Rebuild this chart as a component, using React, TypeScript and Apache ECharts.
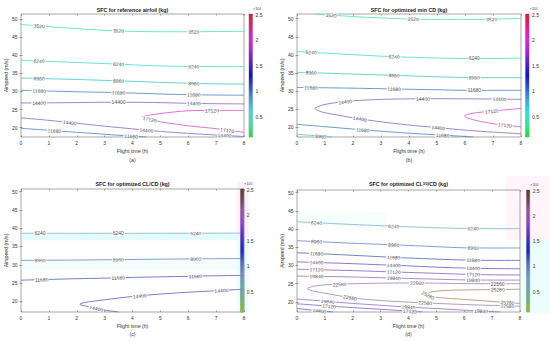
import { useEffect, useRef } from 'react';
import * as echarts from 'echarts';

type Pt = [number, number];
type Contour = { level: number; pts: Pt[] };
type LabelSpec = [number, number, number]; // [contour index, flight time where label sits, crossing number]

const flightTimeRange: Pt = [0, 8];
const airspeedTicks = [20, 25, 30, 35, 40, 45, 50];
const colorbarTicks = [0.5, 1, 1.5, 2, 2.5];
const colorbarRange: Pt = [0.1, 2.51];

// ---- (a) reference airfoil ----
const contoursA: Contour[] = [
  { level: 3520, pts: [[0, 48.5], [1, 47.9], [2, 47.35], [3, 46.9], [4, 46.6], [5, 46.5], [6, 46.5], [7, 46.55], [8, 46.6]] },
  { level: 6240, pts: [[0, 38.6], [1, 38.3], [2, 38.0], [3, 37.7], [4, 37.35], [5, 37.05], [6, 36.9], [7, 36.85], [8, 36.85]] },
  { level: 8960, pts: [[0, 33.7], [1, 33.5], [2, 33.3], [3, 33.05], [4, 32.8], [5, 32.5], [6, 32.25], [7, 32.1], [8, 32.0]] },
  { level: 11680, pts: [[0, 30.3], [1, 30.1], [2, 29.9], [3, 29.75], [4, 29.55], [5, 29.3], [6, 29.1], [7, 29.0], [8, 28.95]] },
  { level: 14400, pts: [[0, 26.8], [1, 26.85], [2, 26.9], [3, 27.0], [4, 27.0], [5, 26.9], [6, 26.7], [7, 26.6], [8, 26.55]] },
  { level: 17120, pts: [[8, 24.75], [7, 24.75], [6, 24.65], [5, 23.9], [4.6, 23.45], [4.34, 22.95], [4.5, 22.5], [4.8, 22.0], [5, 21.6], [6, 20.5], [7, 19.7], [8, 18.7]] },
  { level: 14400, pts: [[0, 22.7], [1, 22.0], [2, 21.2], [3, 20.4], [4, 19.65], [5, 18.95], [6, 18.4], [7, 17.95], [8, 17.55]] },
  { level: 11680, pts: [[0, 19.8], [1, 19.25], [2, 18.7], [3, 18.15], [4, 17.6], [4.5, 17.4]] },
];
const labelsA: LabelSpec[] = [
  [0, 0.65, 0], [0, 3.5, 0], [0, 6.2, 0],
  [1, 0.65, 0], [1, 3.5, 0], [1, 6.2, 0],
  [2, 0.65, 0], [2, 3.5, 0], [2, 6.2, 0],
  [3, 0.65, 0], [3, 3.5, 0], [3, 6.2, 0],
  [4, 0.65, 0], [4, 3.5, 0], [4, 6.2, 0],
  [5, 6.85, 0], [5, 4.62, 1], [5, 7.4, 1],
  [6, 1.75, 0], [6, 4.5, 0], [6, 7.3, 0],
  [7, 1.2, 0], [7, 3.95, 0],
];

// ---- (b) optimized min CD ----
const contoursB: Contour[] = [
  { level: 3520, pts: [[0.68, 51.3], [1, 51.1], [2, 50.6], [3, 50.2], [4, 49.9], [5, 49.8], [6, 49.8], [7, 49.85], [8, 50.1]] },
  { level: 6240, pts: [[0, 40.9], [1, 40.5], [2, 40.05], [3, 39.65], [4, 39.35], [5, 39.15], [6, 39.0], [7, 39.0], [8, 39.1]] },
  { level: 8960, pts: [[0, 35.2], [1, 34.95], [2, 34.7], [3, 34.45], [4, 34.2], [5, 33.95], [6, 33.75], [7, 33.7], [8, 33.7]] },
  { level: 11680, pts: [[0, 31.0], [1, 30.9], [2, 30.8], [3, 30.65], [4, 30.5], [5, 30.35], [6, 30.2], [7, 30.2], [8, 30.2]] },
  { level: 14400, pts: [[8, 27.7], [7, 27.8], [6, 27.85], [5, 27.9], [4, 27.85], [3, 27.7], [2, 27.3], [1.3, 26.7], [0.9, 26.1], [0.64, 25.2], [0.9, 24.2], [1.5, 23.3], [2, 22.6], [3, 21.5], [4, 20.6], [5, 19.9], [6, 19.2], [7, 18.65], [8, 18.2]] },
  { level: 17120, pts: [[8, 25.2], [7, 24.5], [6.5, 24.1], [6.1, 23.6], [5.98, 23.1], [6.1, 22.5], [6.5, 21.7], [7, 21.0], [8, 20.1]] },
  { level: 11680, pts: [[0, 20.8], [1, 20.15], [2, 19.5], [3, 18.9], [4, 18.35], [5, 17.9], [6, 17.45], [6.3, 17.3]] },
  { level: 8960, pts: [[0, 18.05], [0.5, 17.75], [1, 17.45], [1.25, 17.3]] },
];
const labelsB: LabelSpec[] = [
  [0, 1.22, 0], [0, 4.15, 0], [0, 6.95, 0],
  [1, 0.5, 0], [1, 3.47, 0], [1, 6.33, 0],
  [2, 0.5, 0], [2, 3.47, 0], [2, 6.33, 0],
  [3, 0.5, 0], [3, 3.47, 0], [3, 6.33, 0],
  [4, 1.72, 0], [4, 4.5, 0], [4, 7.23, 0], [4, 2.25, 1], [4, 5.05, 1],
  [5, 6.95, 0], [5, 7.42, 1],
  [6, 2.35, 0], [6, 5.2, 0],
  [7, 0.85, 0],
];

// ---- (c) optimized CL/CD ----
const contoursC: Contour[] = [
  { level: 6240, pts: [[0, 38.6], [2, 38.6], [4, 38.6], [6, 38.62], [8, 38.65]] },
  { level: 8960, pts: [[0, 31.2], [2, 31.3], [4, 31.45], [6, 31.6], [8, 31.7]] },
  { level: 11680, pts: [[0, 25.8], [1, 26.0], [2, 26.2], [3, 26.35], [4, 26.55], [5, 26.7], [6, 26.85], [7, 27.0], [8, 27.1]] },
  { level: 14400, pts: [[8, 23.35], [7, 22.9], [6, 22.5], [5, 22.0], [4, 21.35], [3, 20.45], [2.6, 20.05], [2.3, 19.7], [2.11, 19.2], [2.4, 18.6], [2.8, 17.9], [3.2, 17.4], [3.5, 17.1]] },
];
const labelsC: LabelSpec[] = [
  [0, 0.68, 0], [0, 3.49, 0], [0, 6.27, 0],
  [1, 0.68, 0], [1, 3.49, 0], [1, 6.27, 0],
  [2, 0.74, 0], [2, 3.49, 0], [2, 6.26, 0],
  [3, 4.26, 0], [3, 7.19, 0], [3, 2.7, 1],
];

// ---- (d) optimized CL^3/2/CD ----
const contoursD: Contour[] = [
  { level: 6240, pts: [[0, 42.0], [1, 41.6], [2, 41.25], [3, 40.9], [4, 40.6], [5, 40.35], [6, 40.15], [7, 40.1], [8, 40.1]] },
  { level: 8960, pts: [[0, 36.8], [1, 36.45], [2, 36.1], [3, 35.8], [4, 35.5], [5, 35.15], [6, 34.85], [7, 34.8], [8, 34.8]] },
  { level: 11680, pts: [[0, 33.5], [1, 33.15], [2, 32.8], [3, 32.4], [4, 32.05], [5, 31.75], [6, 31.5], [7, 31.4], [8, 31.4]] },
  { level: 14400, pts: [[0, 31.0], [1, 30.75], [2, 30.5], [3, 30.2], [4, 29.9], [5, 29.55], [6, 29.3], [7, 29.15], [8, 29.1]] },
  { level: 17120, pts: [[0, 29.0], [1, 28.8], [2, 28.6], [3, 28.35], [4, 28.1], [5, 27.85], [6, 27.6], [7, 27.45], [8, 27.4]] },
  { level: 19840, pts: [[0, 27.1], [1, 27.0], [2, 26.85], [3, 26.65], [4, 26.45], [5, 26.25], [6, 26.05], [7, 26.0], [8, 26.0]] },
  { level: 22560, pts: [[8, 25.0], [7, 25.0], [6, 25.05], [5, 25.15], [4, 25.2], [3, 25.15], [2, 25.0], [1, 24.7], [0.6, 24.3], [0.38, 23.65], [0.6, 22.95], [1, 22.4], [2, 21.1], [3, 20.4], [4, 19.95], [5, 19.6], [6, 19.3], [7, 19.05], [8, 18.8]] },
  { level: 25280, pts: [[8, 23.5], [7, 23.4], [6, 23.3], [5.2, 23.1], [4.8, 22.7], [4.62, 22.2], [4.75, 21.7], [5.1, 21.2], [6, 20.7], [7, 20.15], [8, 19.6]] },
  { level: 19840, pts: [[0, 20.8], [1, 20.2], [2, 19.6], [3, 19.1], [4, 18.6], [5, 18.2], [6, 17.75], [7, 17.35], [7.3, 17.25]] },
  { level: 17120, pts: [[0, 19.5], [1, 18.95], [2, 18.45], [3, 18.0], [4, 17.5], [4.5, 17.25]] },
  { level: 14400, pts: [[0, 18.2], [0.5, 17.8], [1, 17.45], [1.3, 17.25]] },
];
const labelsD: LabelSpec[] = [
  [0, 0.7, 0], [0, 3.47, 0], [0, 6.32, 0],
  [1, 0.7, 0], [1, 3.47, 0], [1, 6.32, 0],
  [2, 0.7, 0], [2, 3.47, 0], [2, 6.32, 0],
  [3, 0.7, 0], [3, 3.47, 0], [3, 6.32, 0],
  [4, 0.7, 0], [4, 3.47, 0], [4, 6.32, 0],
  [5, 0.7, 0], [5, 3.47, 0], [5, 6.32, 0],
  [6, 1.53, 0], [6, 4.3, 0], [6, 7.2, 0], [6, 1.9, 1], [6, 4.6, 1], [6, 7.55, 1],
  [7, 7.2, 0], [7, 4.7, 1], [7, 7.55, 1],
  [8, 1.1, 0], [8, 4.0, 0], [8, 6.6, 0],
  [9, 1.15, 0], [9, 4.05, 0],
  [10, 0.8, 0],
];

// ---- styles ----
const FONT = '"Liberation Sans", Arial, Helvetica, sans-serif';
const paletteAB: Record<number, string> = {
  3520: '#3fe6b5', 6240: '#3fdcd0', 8960: '#3cc6d0', 11680: '#4a80c0', 14400: '#8a62c4', 17120: '#d850c8',
};
const paletteCD: Record<number, string> = {
  6240: '#78b2dc', 8960: '#5a88c8', 11680: '#5060b8', 14400: '#6a56bc', 17120: '#7e60c0', 19840: '#9070bc', 22560: '#a482a8', 25280: '#a08c68',
};
const cmapAB: [number, string][] = [
  [0.1, '#1fe02a'], [0.35, '#30e8a0'], [0.6, '#30e0e0'], [0.85, '#3c9ce0'], [1.1, '#2d4fd6'], [1.3, '#1010c8'],
  [1.55, '#5a1fd0'], [1.8, '#b020e0'], [2.0, '#e020e0'], [2.25, '#e02090'], [2.51, '#e01c1c'],
];
const cmapCD: [number, string][] = [
  [0.1, '#8cc21e'], [0.35, '#70b078'], [0.6, '#62a8b8'], [0.85, '#7090c4'], [1.05, '#5070c8'], [1.3, '#2020c8'],
  [1.55, '#4a2ad0'], [1.85, '#8a40d8'], [2.1, '#9a50b0'], [2.3, '#704060'], [2.51, '#4e4020'],
];

type Shade = { x0: number; x1: number; y0: number; y1: number; color: string };

const panels = [
  {
    contours: contoursA, labels: labelsA, yRange: [17.4, 51.4] as Pt, palette: paletteAB, cmap: cmapAB,
    grid: { left: 21, top: 14, width: 223, height: 123 }, cbar: { left: 249, top: 14, width: 3.5, height: 123 },
    title: 'SFC for reference airfoil (kg)', caption: '(a)', shades: [] as Shade[], titleY: 10, captionY: 159.5,
  },
  {
    contours: contoursB, labels: labelsB, yRange: [17.3, 51.3] as Pt, palette: paletteAB, cmap: cmapAB,
    grid: { left: 297, top: 14, width: 224, height: 123 }, cbar: { left: 525.5, top: 14, width: 3.5, height: 123 },
    title: 'SFC for optimized min CD (kg)', caption: '(b)', shades: [] as Shade[], titleY: 10, captionY: 159.5,
  },
  {
    contours: contoursC, labels: labelsC, yRange: [17.1, 50.7] as Pt, palette: paletteCD, cmap: cmapCD,
    grid: { left: 21, top: 189, width: 223, height: 123 }, cbar: { left: 240.5, top: 189, width: 3.2, height: 123 },
    title: 'SFC for optimized CL/CD (kg)', caption: '(c)', titleY: 183.8, captionY: 334,
    shades: [
      { x0: 0, x1: 7.8, y0: 36.7, y1: 38.6, color: 'rgba(195,246,246,0.45)' },
      { x0: 0, x1: 7.8, y0: 28.6, y1: 31.2, color: 'rgba(215,250,250,0.3)' },
    ] as Shade[],
  },
  {
    contours: contoursD, labels: labelsD, yRange: [17.25, 50.7] as Pt, palette: paletteCD, cmap: cmapCD,
    grid: { left: 297, top: 190, width: 223, height: 122 }, cbar: { left: 526.5, top: 190, width: 3.2, height: 122 },
    title: 'SFC for optimized CL{sup|3/2}/CD (kg)', caption: '(d)', titleY: 184.3, captionY: 334,
    shades: [
      { x0: 0, x1: 3.2, y0: 40.8, y1: 44.5, color: 'rgba(215,248,248,0.25)' },
    ] as Shade[],
  },
];

function placeLabel(pts: Pt[], x: number, crossing: number, sx: number, sy: number) {
  let count = 0;
  for (let i = 0; i < pts.length - 1; i++) {
    const [x0, y0] = pts[i];
    const [x1, y1] = pts[i + 1];
    const lo = Math.min(x0, x1);
    const hi = Math.max(x0, x1);
    if (hi > lo && x >= lo && x < hi) {
      if (count === crossing) {
        const t = (x - x0) / (x1 - x0);
        let ang = (Math.atan2((y1 - y0) * sy, (x1 - x0) * sx) * 180) / Math.PI;
        if (ang > 90) ang -= 180;
        if (ang < -90) ang += 180;
        return { x, y: y0 + t * (y1 - y0), ang };
      }
      count++;
    }
  }
  return null;
}

function buildOption() {
  const grid: any[] = [];
  const xAxis: any[] = [];
  const yAxis: any[] = [];
  const series: any[] = [];
  const graphic: any[] = [];
  const [cbMin, cbMax] = colorbarRange;
  const tick = { show: true, inside: true, length: 1.6, lineStyle: { color: '#555', width: 0.5 } };
  const lab = { fontSize: 5, color: '#333', fontFamily: FONT };

  panels.forEach((p, i) => {
    const [ymin, ymax] = p.yRange;
    const g = 2 * i;
    const ax = 3 * i;
    grid.push({ ...p.grid, show: true, borderColor: '#6b6b6b', borderWidth: 0.6, backgroundColor: 'transparent', containLabel: false });
    grid.push({ ...p.cbar, show: true, borderColor: '#555', borderWidth: 0.4, backgroundColor: 'transparent', containLabel: false });

    xAxis.push({
      gridIndex: g, type: 'value', min: flightTimeRange[0], max: flightTimeRange[1], interval: 1, position: 'bottom',
      axisLine: { show: false }, axisTick: tick, splitLine: { show: false },
      axisLabel: { ...lab, margin: 3 },
      name: 'Flight time (h)', nameLocation: 'middle', nameGap: 11.5, nameTextStyle: { ...lab, fontSize: 5.2 },
    });
    xAxis.push({
      gridIndex: g, type: 'value', min: flightTimeRange[0], max: flightTimeRange[1], interval: 1, position: 'top',
      axisLine: { show: false }, axisTick: tick, axisLabel: { show: false }, splitLine: { show: false },
    });
    xAxis.push({ gridIndex: g + 1, type: 'category', data: ['cb'], show: false, boundaryGap: true });

    yAxis.push({
      gridIndex: g, type: 'value', min: ymin, max: ymax, position: 'left',
      axisLine: { show: false }, axisTick: { ...tick, customValues: airspeedTicks }, splitLine: { show: false },
      axisLabel: { ...lab, margin: 3.5, customValues: airspeedTicks },
      name: 'Airspeed (m/s)', nameLocation: 'middle', nameGap: 10.5, nameTextStyle: { ...lab, fontSize: 5.2 },
    });
    yAxis.push({
      gridIndex: g, type: 'value', min: ymin, max: ymax, position: 'right',
      axisLine: { show: false }, axisTick: { ...tick, customValues: airspeedTicks }, axisLabel: { show: false }, splitLine: { show: false },
    });
    yAxis.push({
      gridIndex: g + 1, type: 'value', min: cbMin, max: cbMax, position: 'right',
      axisLine: { show: false }, splitLine: { show: false },
      axisTick: { show: true, inside: true, length: 1.2, customValues: colorbarTicks, lineStyle: { color: '#444', width: 0.4 } },
      axisLabel: { ...lab, margin: 3, customValues: colorbarTicks },
    });

    const sx = p.grid.width / (flightTimeRange[1] - flightTimeRange[0]);
    const sy = p.grid.height / (ymax - ymin);

    p.contours.forEach((c, ci) => {
      series.push({
        type: 'line', xAxisIndex: ax, yAxisIndex: ax, data: c.pts, showSymbol: false, symbol: 'none',
        smooth: 0.3, silent: true, z: 2, clip: true,
        lineStyle: { color: p.palette[c.level], width: 0.8 },
        markArea: ci === 0 && p.shades.length
          ? {
              silent: true, z: 1,
              data: p.shades.map((s) => [
                { coord: [s.x0, s.y0], itemStyle: { color: s.color, borderWidth: 0 } },
                { coord: [s.x1, s.y1] },
              ]),
            }
          : undefined,
      });
    });

    const labelData = p.labels
      .map(([ci, x, cr]) => {
        const c = p.contours[ci];
        const r = placeLabel(c.pts, x, cr, sx, sy);
        if (!r) return null;
        return { name: String(c.level), value: [r.x, r.y], label: { rotate: r.ang } };
      })
      .filter(Boolean);
    series.push({
      type: 'scatter', xAxisIndex: ax, yAxisIndex: ax, data: labelData, symbolSize: 0, silent: true, z: 5,
      label: {
        show: true, position: 'inside', formatter: '{b}', fontSize: 5, color: '#1a1a1a', fontFamily: FONT,
        backgroundColor: '#ffffff', padding: [0, 0.8],
      },
    });

    // colorbar
    const stops = p.cmap.map(([v, col]) => ({ offset: (v - cbMin) / (cbMax - cbMin), color: col }));
    series.push({
      type: 'bar', xAxisIndex: ax + 2, yAxisIndex: ax + 2, stack: 'cb' + i, data: [cbMin], barWidth: '100%',
      itemStyle: { color: 'rgba(0,0,0,0)' }, silent: true, z: 3,
    });
    series.push({
      type: 'bar', xAxisIndex: ax + 2, yAxisIndex: ax + 2, stack: 'cb' + i, data: [cbMax - cbMin], barWidth: '100%',
      itemStyle: { color: new echarts.graphic.LinearGradient(0, 1, 0, 0, stops) }, silent: true, z: 3,
    });

    const cx = p.grid.left + p.grid.width / 2;
    graphic.push({
      type: 'text', x: cx, y: p.titleY, z: 100, silent: true,
      style: {
        text: p.title, fill: '#1a1a1a', fontSize: 5.3, fontWeight: 'bold', fontFamily: FONT, align: 'center', verticalAlign: 'middle',
        rich: { sup: { fontSize: 3.6, fontWeight: 'bold', fontFamily: FONT, fill: '#1a1a1a', verticalAlign: 'top' } },
      },
    });
    graphic.push({
      type: 'text', x: cx, y: p.captionY, z: 100, silent: true,
      style: { text: p.caption, fill: '#333', fontSize: 5.2, fontFamily: FONT, align: 'center', verticalAlign: 'middle' },
    });
    graphic.push({
      type: 'text', x: p.cbar.left + p.cbar.width + 0.5, y: p.cbar.top - 4.6, z: 100, silent: true,
      style: {
        text: '×10{e|4}', fill: '#444', fontSize: 3.8, fontFamily: FONT, align: 'left', verticalAlign: 'middle',
        rich: { e: { fontSize: 2.8, fontFamily: FONT, fill: '#444', verticalAlign: 'top' } },
      },
    });
  });

  // faint fill glow near colorbars of (c) and (d)
  const glows = [
    { x: 237.5, y: 183, w: 11, h: 55, c: 'rgba(255,210,235,0.4)' },
    { x: 237.5, y: 238, w: 11, h: 75, c: 'rgba(205,250,250,0.45)' },
    { x: 506, y: 176, w: 44, h: 64, c: 'rgba(255,218,238,0.28)' },
    { x: 521, y: 240, w: 29, h: 73, c: 'rgba(205,250,250,0.38)' },
  ];
  glows.forEach((gl) => {
    graphic.push({ type: 'rect', z: -10, silent: true, shape: { x: gl.x, y: gl.y, width: gl.w, height: gl.h }, style: { fill: gl.c } });
  });

  return { animation: false, backgroundColor: '#ffffff', grid, xAxis, yAxis, series, graphic };
}

export default function App() {
  const ref = useRef<HTMLDivElement>(null);
  useEffect(() => {
    if (!ref.current) return;
    const chart = echarts.init(ref.current, undefined, { renderer: 'svg' });
    chart.setOption(buildOption() as any);
    return () => chart.dispose();
  }, []);
  return (
    <div
      ref={ref}
      style={{ position: 'fixed', left: 0, top: 0, width: 550, height: 342, background: '#ffffff' }}
    />
  );
}
